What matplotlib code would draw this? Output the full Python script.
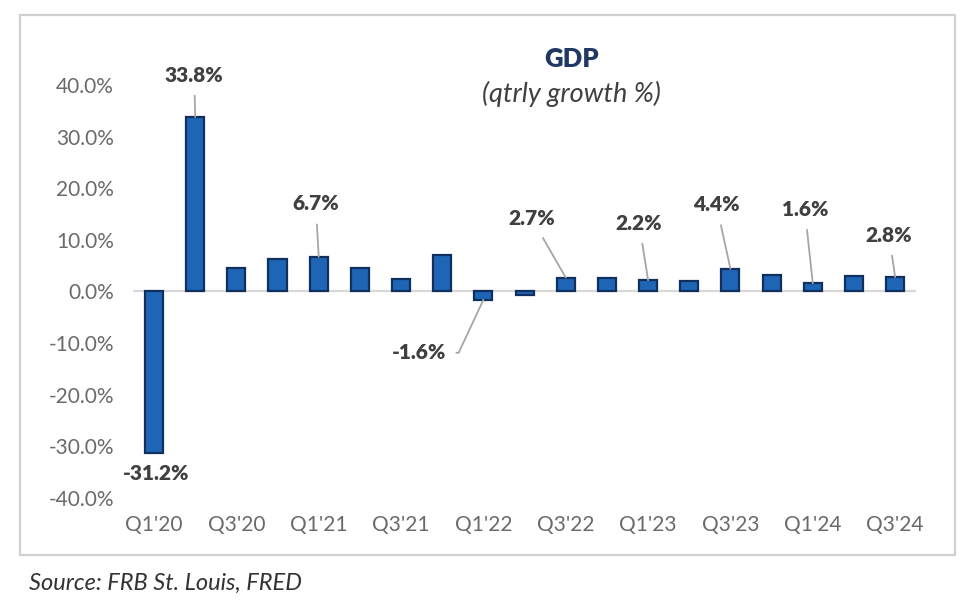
import matplotlib.pyplot as plt
import matplotlib.patches as mpatches
import numpy as np

# Данные: квартальный рост ВВП, %
quarters = ["Q1'20", "Q2'20", "Q3'20", "Q4'20", "Q1'21", "Q2'21", "Q3'21", "Q4'21",
            "Q1'22", "Q2'22", "Q3'22", "Q4'22", "Q1'23", "Q2'23", "Q3'23", "Q4'23",
            "Q1'24", "Q2'24", "Q3'24"]
growth = [-31.2, 33.8, 4.6, 6.3, 6.7, 4.5, 2.4, 7.0, -1.6, -0.6, 2.7, 2.6, 2.2,
          2.1, 4.4, 3.2, 1.6, 3.0, 2.8]
labeled = [0, 1, 4, 8, 10, 12, 14, 16, 18]

# смещения подписей (пиксели)
label_offsets = {0: (2, -21), 1: (-1, 42), 4: (-3, 53), 8: (-64, -53),
                 10: (-34, 59), 12: (-9, 57), 14: (-14, 64), 16: (-8, 74), 18: (-6, 42)}

x = np.arange(len(quarters))

fig = plt.figure(figsize=(9.69, 6.05), dpi=100)
ax = fig.add_axes([0.1377, 0.1769, 0.8073, 0.6826])

ax.bar(x, growth, width=0.44, color='#1f65b6', edgecolor='#0f2f5f', linewidth=1.6, zorder=3)
ax.axhline(0, color='#d9d9d9', linewidth=1.6, zorder=2)

ax.set_xlim(-0.5, len(quarters) - 0.5)
ax.set_ylim(-40, 40)
ax.set_yticks(np.arange(-40, 41, 10))
ax.set_yticklabels([f'{v:.1f}%' for v in np.arange(-40, 41, 10)])
ax.set_xticks(x[::2])
ax.set_xticklabels(quarters[::2])
for s in ax.spines.values():
    s.set_visible(False)
ax.tick_params(length=0, labelsize=15, labelcolor='#6a6a6a', pad=14)
ax.tick_params(axis='x', pad=12)
for t in ax.get_xticklabels() + ax.get_yticklabels():
    t.set_fontfamily('Lato')

lbl_style = dict(textcoords='offset pixels', ha='center', va='center', fontsize=15,
                 fontweight='heavy', color='#404040', family='Lato')
for i in labeled:
    dx, dy = label_offsets[i]
    txt = f'{growth[i]:.1f}%'
    if i == 0:
        ax.annotate(txt, xy=(i, growth[i]), xytext=(dx, dy), **lbl_style)
    elif i == 8:
        ax.annotate(txt, xy=(i, growth[i]), xytext=(dx, dy), **lbl_style,
                    arrowprops=dict(arrowstyle='-', color='#a6a6a6', lw=1.3, shrinkA=5, shrinkB=0,
                                    connectionstyle='angle,angleA=0,angleB=65,rad=0'))
    else:
        ax.annotate(txt, xy=(i, growth[i]), xytext=(dx, dy), **lbl_style,
                    arrowprops=dict(arrowstyle='-', color='#a6a6a6', lw=1.3, shrinkA=6, shrinkB=0))

# Заголовок
fig.text(0.590, 0.902, 'GDP', ha='center', va='center', fontsize=18.5, fontweight='heavy',
         color='#1f3864', family='Lato')
fig.text(0.590, 0.845, '(qtrly growth %)', ha='center', va='center', fontsize=19.5,
         style='italic', color='#404040', family='Lato')

# Рамка и источник
fig.patches.append(mpatches.Rectangle((0.0206, 0.0826), 0.965, 0.8926, transform=fig.transFigure,
                                      fill=False, edgecolor='#d0d0d0', linewidth=1.6))
fig.text(0.030, 0.036, 'Source: FRB St. Louis, FRED', ha='left', va='center', fontsize=17,
         style='italic', color='#333333', family='Lato')

plt.savefig('out.png', dpi=100)
